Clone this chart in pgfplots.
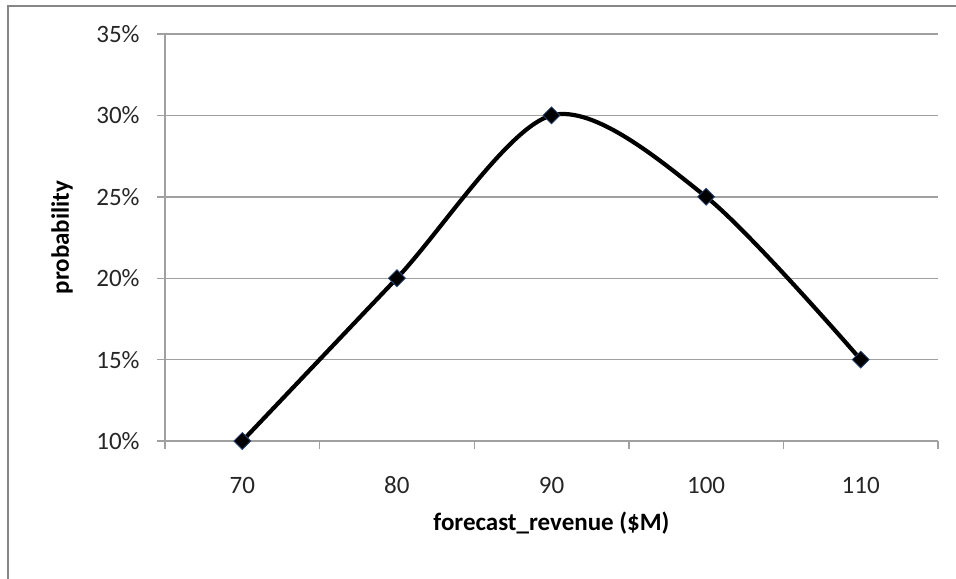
\documentclass[border=0pt]{standalone}
\usepackage{pgfplots}
\pgfplotsset{compat=1.18}
\usepackage{fontspec}
\setmainfont{Carlito}
\definecolor{gridgray}{RGB}{160,160,160}
\definecolor{framegray}{RGB}{134,134,134}
\definecolor{markedge}{RGB}{40,70,120}

\begin{document}
\begin{tikzpicture}
\path[use as bounding box] (-82.5pt,-68.5pt) rectangle (395.5pt,220.5pt);
\draw[framegray, line width=1.1pt] (-78.5pt,-75pt) -- (-78.5pt,217.5pt) -- (400pt,217.5pt);
\begin{axis}[
    at={(0,0)}, anchor=south west,
    scale only axis,
    width=386.5pt, height=203.5pt,
    xmin=65, xmax=115,
    ymin=10, ymax=35,
    axis lines*=left,
    axis line style={gridgray, line width=0.7pt},
    xtick={70,80,90,100,110},
    xticklabels={70,80,90,100,110},
    minor xtick={65,75,...,115},
    major x tick style={draw=none},
    minor x tick style={gridgray, line width=0.7pt},
    ytick={10,15,20,25,30,35},
    yticklabels={10\%,15\%,20\%,25\%,30\%,35\%},
    y tick style={gridgray, line width=0.7pt},
    tick align=outside,
    major tick length=4pt,
    minor tick length=4pt,
    ymajorgrids,
    grid style={gridgray, line width=0.7pt},
    tick label style={font=\fontsize{12.5}{15}\selectfont, text=black!85},
    xticklabel style={anchor=center, yshift=-18pt},
    yticklabel style={anchor=east, inner sep=0pt, xshift=-8.5pt},
    xlabel={forecast\_revenue (\$M)},
    ylabel={probability},
    label style={font=\fontsize{12.5}{15}\selectfont\bfseries},
    xlabel style={at={(axis description cs:0.5,0)}, anchor=center, yshift=-41pt},
    ylabel style={at={([xshift=-51.5pt]axis description cs:0,0.5)}, anchor=center},
]
\addplot[black, line width=2.1pt, smooth,
    mark=square*, mark size=3pt,
    mark options={rotate=45, fill=black, draw=markedge, line width=0.4pt}]
    coordinates {(70,10) (80,20) (90,30) (100,25) (110,15)};
\end{axis}
\end{tikzpicture}
\end{document}
